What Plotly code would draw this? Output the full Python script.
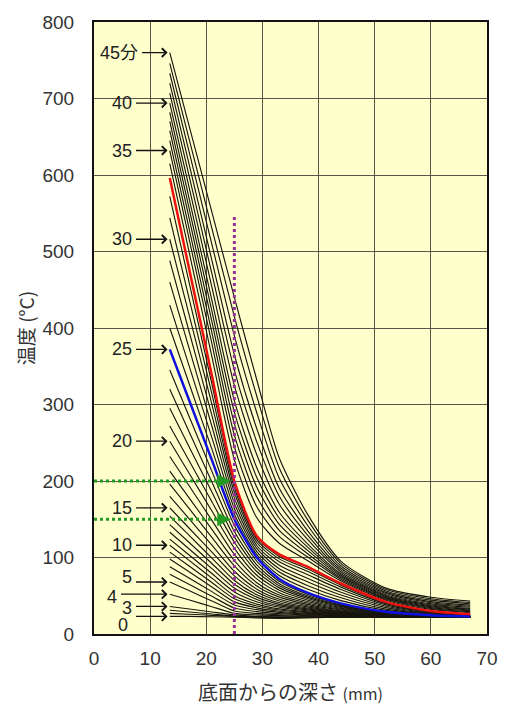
import plotly.graph_objects as go

# ---------------- data ----------------
depth_mm = [13.5, 17, 21, 25, 29, 33, 38, 44, 52, 60, 67]

temp_m00 = [23, 23, 22.5, 22, 21, 20.5, 21, 22, 22, 22, 22]
temp_m01 = [27, 25.8, 24.4, 23, 22, 21.5, 22, 22, 22, 22, 22]
temp_m02 = [31, 28.7, 26.1, 23.5, 22.5, 22, 22, 22, 22, 22, 22]
temp_m03 = [36, 32.7, 28.8, 25, 23, 22.5, 22.2, 22, 22, 22, 22]
temp_m04 = [52, 44.4, 35.7, 27, 25, 24, 23.2, 22.7, 22.3, 22.1, 22]
temp_m05 = [68, 56.4, 43.2, 30, 26.9, 25.1, 24, 23.1, 22.4, 22.2, 22.1]
temp_m06 = [78, 64.6, 49.3, 34, 29.3, 26.7, 25, 23.7, 22.7, 22.2, 22.1]
temp_m07 = [88, 72.8, 55.4, 38, 31.8, 28.3, 26, 24.3, 22.9, 22.3, 22.1]
temp_m08 = [98, 81, 61.5, 42, 34.2, 29.8, 27, 24.8, 23.1, 22.4, 22.2]
temp_m09 = [107, 88.5, 67.2, 46, 36.6, 31.4, 28, 25.4, 23.3, 22.5, 22.2]
temp_m10 = [116, 95.9, 73, 50, 39.1, 32.9, 29, 25.9, 23.5, 22.5, 22.2]
temp_m11 = [124, 103, 79, 55, 42.1, 34.9, 30.3, 26.6, 23.8, 22.6, 22.3]
temp_m12 = [133, 110.8, 85.4, 60, 45.2, 36.8, 31.5, 27.3, 24.1, 22.7, 22.3]
temp_m13 = [143, 119.3, 92.1, 65, 48.2, 38.8, 32.8, 28, 24.4, 22.8, 22.3]
temp_m14 = [154, 128.5, 99.2, 70, 51.3, 40.8, 34, 28.8, 24.6, 22.9, 22.4]
temp_m15 = [165, 137.9, 107, 76, 54.9, 43.1, 35.5, 29.6, 25, 23.1, 22.4]
temp_m16 = [180, 150.2, 116.1, 82, 58.6, 45.4, 37, 30.4, 25.3, 23.2, 22.5]
temp_m17 = [196, 163.5, 126.2, 89, 62.8, 48.2, 38.7, 31.4, 25.7, 23.3, 22.5]
temp_m18 = [213, 177.4, 136.7, 96, 67.1, 50.9, 40.5, 32.4, 26, 23.4, 22.6]
temp_m19 = [232, 193.1, 148.5, 104, 72, 54, 42.5, 33.5, 26.5, 23.6, 22.6]
temp_m20 = [252, 209.4, 160.7, 112, 76.8, 57.2, 44.5, 34.7, 26.9, 23.8, 22.7]
temp_m21 = [272, 225.8, 172.9, 120, 81.7, 60.3, 46.5, 35.8, 27.4, 23.9, 22.8]
temp_m22 = [295, 243.9, 185.5, 127, 86, 63, 48.2, 36.8, 27.7, 24.1, 22.8]
temp_m23 = [320, 263.5, 198.7, 134, 90.3, 65.8, 50, 37.8, 28.1, 24.2, 22.9]
temp_m24 = [345, 283.3, 212.6, 142, 95.1, 68.9, 52, 38.9, 28.6, 24.3, 22.9]
temp_m25 = [372, 304.5, 227.3, 150, 100, 72, 54, 40, 29, 24.5, 23]
temp_m26 = [400, 326.1, 241.6, 157, 103.9, 76.5, 58.8, 43.6, 30.8, 25.3, 23.4]
temp_m27 = [430, 349.1, 256.6, 164, 107.8, 81, 63.5, 47.3, 32.6, 26, 23.8]
temp_m28 = [460, 372.1, 271.6, 171, 111.8, 85.4, 68.3, 50.9, 34.5, 26.8, 24.3]
temp_m29 = [488, 393.8, 285.9, 178, 115.7, 89.9, 73, 54.6, 36.3, 27.6, 24.7]
temp_m30 = [516, 415.4, 300.2, 185, 119.6, 94.4, 77.8, 58.2, 38.1, 28.4, 25.1]
temp_m31 = [544, 436.7, 313.8, 191, 123, 98.2, 81.9, 61.3, 39.7, 29.1, 25.5]
temp_m32 = [572, 457.7, 326.8, 196, 125.8, 101.4, 85.3, 63.9, 41, 29.6, 25.8]
temp_m33 = [596, 475.6, 337.8, 200, 128, 104, 88, 66, 42, 30, 26]
temp_m34 = [615, 497.4, 362.7, 228, 151.9, 118.7, 96.1, 69.4, 44.1, 32.1, 28]
temp_m35 = [632, 514.4, 379.7, 245, 166.3, 127.6, 100.9, 71.4, 45.4, 33.4, 29.2]
temp_m36 = [645, 528, 394, 260, 179, 135.5, 105.3, 73.3, 46.5, 34.5, 30.3]
temp_m37 = [658, 541.6, 408.3, 275, 191.8, 143.4, 109.6, 75.1, 47.6, 35.6, 31.3]
temp_m38 = [670, 554.5, 422.2, 290, 204.5, 151.3, 113.9, 76.9, 48.8, 36.8, 32.4]
temp_m39 = [682, 567.4, 436.2, 305, 217.3, 159.1, 118.2, 78.7, 49.9, 37.9, 33.4]
temp_m40 = [694, 581.8, 453.4, 325, 234.3, 169.6, 123.9, 81.1, 51.4, 39.4, 34.9]
temp_m41 = [707, 597, 471, 345, 251.2, 180.1, 129.7, 83.5, 52.9, 40.9, 36.3]
temp_m42 = [720, 612.1, 488.5, 365, 268.3, 190.6, 135.4, 85.9, 54.4, 42.4, 37.7]
temp_m43 = [733, 628.7, 509.4, 390, 289.2, 203.5, 142.5, 88.9, 56.2, 44.2, 39.4]
temp_m44 = [746, 645.4, 530.2, 415, 310.8, 216.9, 149.8, 92, 58.1, 46.1, 41.2]
temp_m45 = [760, 662.7, 551.4, 440, 332, 230, 157, 95, 60, 48, 43]

curves = [temp_m00, temp_m01, temp_m02, temp_m03, temp_m04, temp_m05, temp_m06,
          temp_m07, temp_m08, temp_m09, temp_m10, temp_m11, temp_m12, temp_m13,
          temp_m14, temp_m15, temp_m16, temp_m17, temp_m18, temp_m19, temp_m20,
          temp_m21, temp_m22, temp_m23, temp_m24, temp_m25, temp_m26, temp_m27,
          temp_m28, temp_m29, temp_m30, temp_m31, temp_m32, temp_m33, temp_m34,
          temp_m35, temp_m36, temp_m37, temp_m38, temp_m39, temp_m40, temp_m41,
          temp_m42, temp_m43, temp_m44, temp_m45]

blue_minute = 25
red_minute = 33

label_minutes = [45, 40, 35, 30, 25, 20, 15, 10, 5, 4, 3, 0]
label_texts = ['45分', '40', '35', '30', '25', '20', '15', '10', '5', '4', '3', '0']

target_depth = 25
target_temps = [200, 150]
marker_line_top = 545

x_ticks = [0, 10, 20, 30, 40, 50, 60, 70]
y_ticks = [0, 100, 200, 300, 400, 500, 600, 700, 800]

# ---------------- figure ----------------
fig = go.Figure()

for m, temps in enumerate(curves):
    if m in (blue_minute, red_minute):
        continue
    fig.add_trace(go.Scatter(x=depth_mm, y=temps, mode='lines',
                             line=dict(color='#17170f', width=1.15, shape='spline', smoothing=0.7),
                             showlegend=False, hoverinfo='skip'))

fig.add_trace(go.Scatter(x=depth_mm, y=curves[blue_minute], mode='lines',
                         line=dict(color='#1010e0', width=2.5, shape='spline', smoothing=0.7),
                         showlegend=False))
fig.add_trace(go.Scatter(x=depth_mm, y=curves[red_minute], mode='lines',
                         line=dict(color='#ee1111', width=2.5, shape='spline', smoothing=0.7),
                         showlegend=False))

# purple dotted vertical line at the target depth
fig.add_trace(go.Scatter(x=[target_depth, target_depth], y=[0, marker_line_top], mode='lines',
                         line=dict(color='#98309a', width=3, dash='dot'),
                         showlegend=False))

# green dotted arrows
for t in target_temps:
    fig.add_trace(go.Scatter(x=[0, target_depth - 2.3], y=[t, t], mode='lines',
                             line=dict(color='#229922', width=3, dash='dot'),
                             showlegend=False))
    fig.add_annotation(x=target_depth - 0.6, y=t, ax=target_depth - 2.6, ay=t,
                       xref='x', yref='y', axref='x', ayref='y', text='',
                       showarrow=True, arrowhead=2, arrowsize=1.1, arrowwidth=2.5,
                       arrowcolor='#229922')

# minute labels with arrows
arrow_len = {45: 27, 4: 48}
text_dy = {5: 5, 4: -3, 3: -2, 0: -9}
text_dx = {0: -4}
lab_font = dict(family='Liberation Sans, Arial, Noto Sans CJK JP', size=18, color='#222222')
for m, txt in zip(label_minutes, label_texts):
    y0 = curves[m][0]
    L = arrow_len.get(m, 33)
    fig.add_annotation(x=13.1, y=y0, xref='x', yref='y', ax=-L, ay=0, text='',
                       showarrow=True, arrowhead=4, arrowsize=1.3, arrowwidth=1.3,
                       arrowcolor='#111111')
    fig.add_annotation(x=13.1, y=y0, xref='x', yref='y', text=txt, showarrow=False,
                       xanchor='right', yanchor='middle',
                       xshift=-L - 1 + text_dx.get(m, 0), yshift=text_dy.get(m, 0),
                       font=lab_font)

axis_font = dict(family='Liberation Sans, Arial', size=19, color='#333333')
fig.update_xaxes(range=[0, 70], tickvals=x_ticks, showgrid=True, gridcolor='#55554a', gridwidth=1,
                 showline=True, linecolor='#111111', linewidth=2, mirror=True,
                 zeroline=False, tickfont=axis_font, ticks='', ticklabelstandoff=6,
                 title=dict(text='底面からの深さ <span style="font-size:16px">(mm)</span>',
                            font=dict(family='Noto Sans CJK JP', size=20, color='#333333'),
                            standoff=18))
fig.update_yaxes(range=[0, 800], tickvals=y_ticks, showgrid=True, gridcolor='#55554a', gridwidth=1,
                 showline=True, linecolor='#111111', linewidth=2, mirror=True,
                 zeroline=False, tickfont=axis_font, ticks='', ticklabelstandoff=14,
                 title=dict(text='温度 (°C)',
                            font=dict(family='Noto Sans CJK JP', size=19, color='#333333'),
                            standoff=3))

fig.update_layout(width=510, height=713, margin=dict(l=94, r=12, t=15, b=78),
                  plot_bgcolor='#ffffcc', paper_bgcolor='#ffffff', showlegend=False)

fig.write_html('out.html')
